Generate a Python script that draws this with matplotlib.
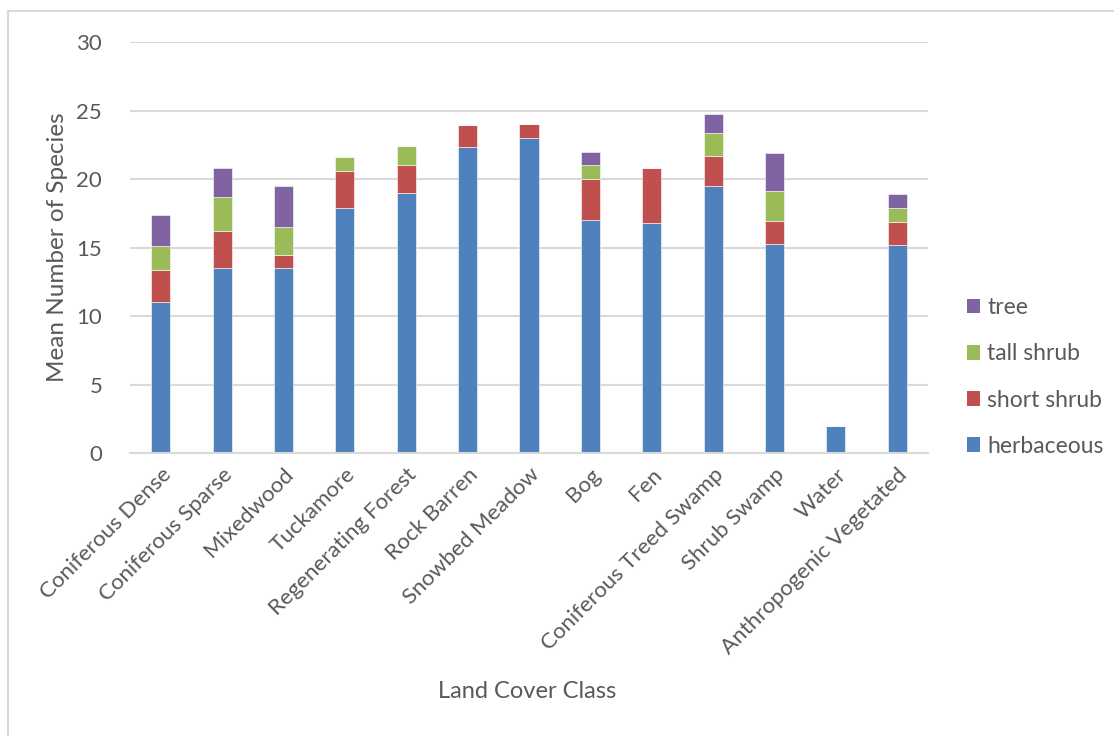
import matplotlib.pyplot as plt
from matplotlib.lines import Line2D
from matplotlib.patches import Patch

import numpy as np

CLASSES = [
    'Coniferous Dense', 'Coniferous Sparse', 'Mixedwood', 'Tuckamore',
    'Regenerating Forest', 'Rock Barren', 'Snowbed Meadow', 'Bog', 'Fen',
    'Coniferous Treed Swamp', 'Shrub Swamp', 'Water', 'Anthropogenic Vegetated'
]

HERBACEOUS  = [11.07, 13.55, 13.50, 17.90, 19.00, 22.36, 23.00, 17.00, 16.80, 19.52, 15.29, 2.00, 15.20]
SHORT_SHRUB = [ 2.28,  2.66,  0.97,  2.67,  2.00,  1.60,  1.00,  3.00,  4.03,  2.15,  1.65, 0.00,  1.68]
TALL_SHRUB  = [ 1.80,  2.46,  2.03,  1.02,  1.38,  0.00,  0.00,  1.00,  0.00,  1.67,  2.16, 0.00,  1.00]
TREE        = [ 2.20,  2.16,  3.02,  0.00,  0.00,  0.00,  0.00,  1.00,  0.00,  1.41,  2.77, 0.00,  1.00]

SERIES = [
    ('herbaceous', HERBACEOUS, '#4F81BD'),
    ('short shrub', SHORT_SHRUB, '#C0504D'),
    ('tall shrub', TALL_SHRUB, '#9BBB59'),
    ('tree', TREE, '#8064A2'),
]

TEXT = '#595959'
GRID = '#D9D9D9'

plt.rcParams['font.family'] = ['Lato', 'DejaVu Sans']

fig = plt.figure(figsize=(11.14, 7.36), dpi=100)
ax = fig.add_axes((130 / 1114, 1 - 453.3 / 736, 798 / 1114, (453.3 - 42) / 736))

x = np.arange(len(CLASSES))
bottom = np.zeros(len(CLASSES))
handles = []
for name, vals, color in SERIES:
    vals = np.array(vals)
    ax.bar(x, vals, width=0.31, bottom=bottom, color=color,
           edgecolor='white', linewidth=0.4)
    bottom += vals
    handles.append(Patch(facecolor=color, label=name))

ax.set_xlim(-0.5, len(CLASSES) - 0.5)
ax.set_ylim(0, 30)
ax.set_yticks(range(0, 31, 5))
ax.yaxis.grid(True, color=GRID, linewidth=1.5)
ax.set_axisbelow(True)

for side in ('top', 'right', 'left'):
    ax.spines[side].set_visible(False)
ax.spines['bottom'].set_color(GRID)
ax.spines['bottom'].set_linewidth(1.5)

ax.tick_params(axis='both', length=0, labelsize=16, colors=TEXT)
ax.tick_params(axis='y', pad=20)
ax.set_xticks(x)
ax.set_xticklabels(CLASSES, rotation=45, ha='right', rotation_mode='anchor')
ax.tick_params(axis='x', pad=8)

ax.set_ylabel('Mean Number of Species', fontsize=17.5, color=TEXT, labelpad=6)
fig.text(527 / 1114, 1 - 692 / 736, 'Land Cover Class', fontsize=17,
         color=TEXT, ha='center', va='center')

fig.legend(handles=handles[::-1], loc='center left',
           bbox_to_anchor=(946 / 1114, 1 - 377 / 736), frameon=False,
           fontsize=16.5, labelcolor=TEXT, handlelength=0.6, handleheight=0.6,
           handletextpad=0.3, labelspacing=1.1)

# chart frame, top and left edges
fig.add_artist(Line2D([8 / 1114, 8 / 1114], [0, 1 - 11 / 736], color=GRID, linewidth=1.5))
fig.add_artist(Line2D([8 / 1114, 1], [1 - 11 / 736, 1 - 11 / 736], color=GRID, linewidth=1.5))

fig.savefig('out.png', dpi=100)
